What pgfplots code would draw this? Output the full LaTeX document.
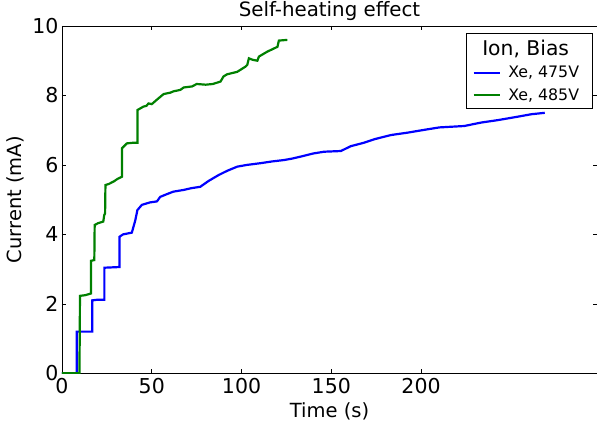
\documentclass[border=0pt]{standalone}
\usepackage{pgfplots}
\pgfplotsset{compat=1.18}
\usepackage{fontspec}
\setmainfont{DejaVu Sans}
\definecolor{mblue}{RGB}{0,0,255}
\definecolor{mgreen}{RGB}{0,128,0}
\begin{document}
\begin{tikzpicture}
\begin{axis}[
  scale only axis,
  width=535pt, height=347.3pt,
  xmin=0, xmax=298, ymin=0, ymax=10,
  xtick={0,50,100,150,200},
  ytick={0,2,4,6,8,10},
  tick align=inside,
  major tick length=4pt,
  tick style={black, line width=0.6pt},
  axis line style={black, line width=0.8pt},
  /pgf/number format/assume math mode=true,
  tick label style={font=\fontsize{20.5}{23}\selectfont},
  xticklabel style={yshift=-1pt},
  label style={font=\fontsize{19.5}{22}\selectfont},
  title style={font=\fontsize{19.8}{22}\selectfont, yshift=-4pt},
  title={Self-heating effect},
  xlabel={Time (s)},
  ylabel={Current (mA)},
  xlabel style={yshift=-2pt},
  ylabel style={yshift=1pt},
  legend cell align=left,
  legend image code/.code={\draw[#1] (0pt,0pt) -- (26pt,0pt);},
  legend style={at={(1,1)}, anchor=north east, xshift=-4pt, yshift=-7pt,
    draw=black, line width=0.8pt, fill=white,
    font=\fontsize{15.8}{19}\selectfont,
    inner xsep=6pt, inner ysep=5pt, row sep=5pt,
    nodes={inner xsep=7.5pt}},
]
\coordinate (SW) at (rel axis cs:0,0);
\coordinate (NE) at (rel axis cs:1,1);
\addlegendimage{empty legend}
\addlegendentry{\hspace*{-26pt}\fontsize{20.3}{22}\selectfont Ion, Bias}
\addplot[mblue, line width=2.2pt] coordinates {
(0,0) (8.2,0) (8.2,1.20) (16.9,1.20) (16.9,2.10) (20,2.12) (23.6,2.12)
(23.6,3.04) (32,3.06) (32,3.93) (34,4.0) (38.9,4.05) (40.8,4.4) (42,4.7)
(44.5,4.85) (49,4.92) (52.9,4.95) (54.7,5.08) (58,5.15) (62,5.23) (67.8,5.28)
(72,5.33) (77,5.37) (81.7,5.54) (87.3,5.71) (92,5.83) (97.6,5.95) (103,6.0)
(110.6,6.05) (117,6.1) (123.6,6.14) (128,6.18) (133,6.24) (140,6.33)
(146,6.38) (155.3,6.40) (160.9,6.54) (168.3,6.64) (174,6.74) (183.2,6.86)
(192.6,6.93) (201.8,7.01) (210.2,7.08) (224,7.12) (233.5,7.22) (242.8,7.29)
(254,7.39) (261.5,7.46) (268.9,7.50)
};
\addlegendentry{Xe, 475V}
\addplot[mgreen, line width=2.2pt] coordinates {
(0,0) (9.7,0) (9.9,1.2) (10,2.23) (13,2.25) (15,2.28) (16.2,2.30) (16.2,3.24)
(18,3.26) (18.2,4.27) (20,4.32) (23,4.37) (23.5,4.55) (24,4.6) (24.2,5.42)
(26,5.45) (28.7,5.52) (31,5.6) (33.4,5.66) (33.4,6.48) (36.1,6.62) (40,6.64)
(42,6.64) (42,7.58) (45.4,7.68) (47,7.7) (48.2,7.77) (50,7.75) (52.9,7.88)
(56.6,8.04) (60.3,8.08) (62.2,8.12) (65.9,8.16) (67.8,8.23) (72.5,8.26)
(75,8.33) (80,8.31) (84,8.33) (88.3,8.40) (90,8.55) (92,8.61) (97.6,8.68)
(102.2,8.83) (103.2,8.88) (104.1,9.07) (106,9.03) (108.8,9.00) (109.7,9.12)
(114.3,9.26) (120,9.40) (120.8,9.58) (125.5,9.60)
};
\addlegendentry{Xe, 485V}
\end{axis}
\pgfresetboundingbox
\path (SW) ++(-62pt,-52pt) coordinate (BL);
\path (NE) ++(0pt,26pt) coordinate (TR);
\useasboundingbox (BL) rectangle (TR);
\end{tikzpicture}
\end{document}
